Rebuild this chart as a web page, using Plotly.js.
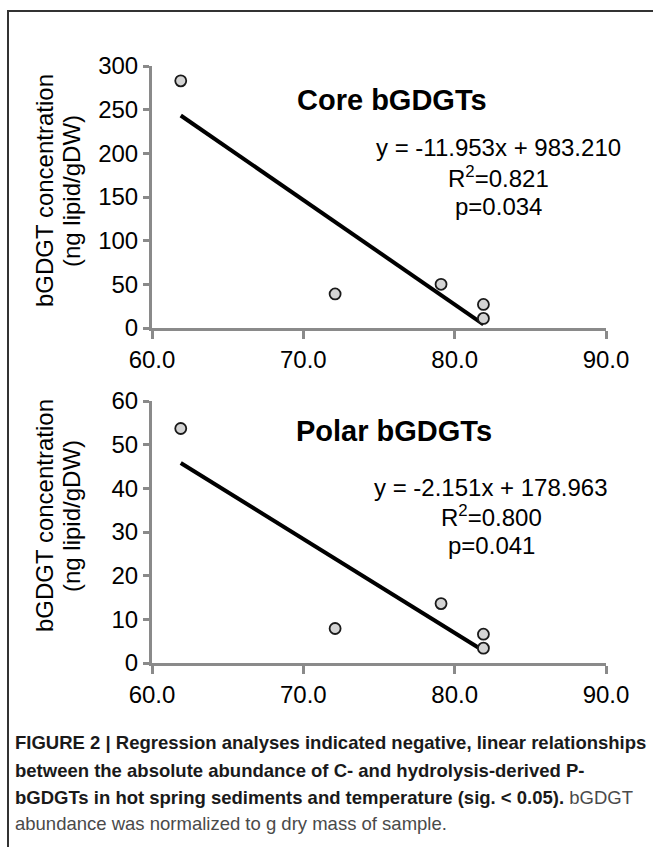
<!DOCTYPE html>
<html>
<head>
<meta charset="utf-8">
<script src="https://cdn.plot.ly/plotly-3.0.1.min.js"></script>
<style>
html,body{margin:0;padding:0;background:#fff;}
#chart{width:653px;height:847px;}
</style>
</head>
<body>
<div id="chart"></div>
<script>
// ---- data ----
const temperature = [61.9, 72.1, 79.1, 81.9, 81.9];
const coreConc = [283, 39, 50, 27, 11];
const polarConc = [53.7, 7.9, 13.6, 6.6, 3.4];
const coreFit = {slope: -11.953, intercept: 983.210};
const polarFit = {slope: -2.151, intercept: 178.963};
const xTicks = [60, 70, 80, 90];
const coreYTicks = [0, 50, 100, 150, 200, 250, 300];
const polarYTicks = [0, 10, 20, 30, 40, 50, 60];
const panelTitles = ["Core bGDGTs", "Polar bGDGTs"];
const coreStats = ["y = -11.953x + 983.210", "R<sup>2</sup>=0.821", "p=0.034"];
const polarStats = ["y = -2.151x + 178.963", "R<sup>2</sup>=0.800", "p=0.041"];
const yTitleLines = ["bGDGT concentration", "(ng lipid/gDW)"];
const captionLines = [
  "<b>FIGURE 2 | Regression analyses indicated negative, linear relationships</b>",
  "<b>between the absolute abundance of C- and hydrolysis-derived P-</b>",
  "<b>bGDGTs in hot spring sediments and temperature (sig. &lt; 0.05).</b> <span style=\"color:#4a4a4a\">bGDGT</span>",
  "<span style=\"color:#4a4a4a\">abundance was normalized to g dry mass of sample.</span>"
];

// ---- helpers ----
const W = 653, H = 847;
const px = v => v / W;
const py = v => 1 - v / H;
const FONT = "Liberation Sans, Arial, sans-serif";
const NARROW = "Liberation Sans Narrow, Arial Narrow, Liberation Sans, Arial, sans-serif";
const AX = "#8a8a8a";

const xmin = Math.min(...temperature), xmax = Math.max(...temperature);
const fitLine = f => [xmin, xmax].map(x => f.slope * x + f.intercept);

const markerStyle = {size: 11, color: "#d4d4d4", line: {color: "#1a1a1a", width: 1.8}};

const traces = [
  {x: [xmin, xmax], y: fitLine(coreFit), xaxis: "x", yaxis: "y", mode: "lines",
   line: {color: "#000", width: 4}, hoverinfo: "skip"},
  {x: temperature, y: coreConc, xaxis: "x", yaxis: "y", mode: "markers", marker: markerStyle},
  {x: [xmin, xmax], y: fitLine(polarFit), xaxis: "x2", yaxis: "y2", mode: "lines",
   line: {color: "#000", width: 4}, hoverinfo: "skip"},
  {x: temperature, y: polarConc, xaxis: "x2", yaxis: "y2", mode: "markers", marker: markerStyle}
];

const axisBase = {
  showline: true, linecolor: AX, linewidth: 3, ticks: "outside", ticklen: 6,
  tickwidth: 3, tickcolor: AX, showgrid: false, zeroline: false,
  tickfont: {family: FONT, size: 24, color: "#000"}, fixedrange: true
};
const xAxis = (anchor) => Object.assign({}, axisBase, {
  domain: [px(152), px(606)], range: [60, 90], tickvals: xTicks,
  tickformat: ".1f", anchor: anchor, ticklen: 8
});

const annotations = [];
function addText(text, x, y, size, opts) {
  annotations.push(Object.assign({
    text: text, x: px(x), y: py(y), xref: "paper", yref: "paper",
    showarrow: false, xanchor: "center", yanchor: "middle",
    font: {family: FONT, size: size, color: "#000"}
  }, opts || {}));
}
addText("<b>" + panelTitles[0] + "</b>", 392, 100, 29);
addText("<b>" + panelTitles[1] + "</b>", 394, 431, 29);
coreStats.forEach((t, i) => addText(t, 498, 148 + i * 29, 24));
polarStats.forEach((t, i) => addText(t, 491, 487 + i * 29, 24));
[191, 516].forEach(cy => {
  addText(yTitleLines[0], 44, cy, 24, {textangle: -90});
  addText(yTitleLines[1], 71, cy, 24, {textangle: -90});
});
const capY = [742, 770, 797, 823];
captionLines.forEach((t, i) => addText(t, 13, capY[i], 18.5,
  {xanchor: "left", font: {family: NARROW, size: 18.5, color: "#1a1a1a"}}));

const layout = {
  width: W, height: H, margin: {l: 0, r: 0, t: 0, b: 0},
  paper_bgcolor: "#fff", plot_bgcolor: "rgba(0,0,0,0)", showlegend: false,
  xaxis: xAxis("y"),
  yaxis: Object.assign({}, axisBase, {domain: [py(328), py(66)], range: [0, 300],
    tickvals: coreYTicks, anchor: "x"}),
  xaxis2: xAxis("y2"),
  yaxis2: Object.assign({}, axisBase, {domain: [py(663), py(401)], range: [0, 60],
    tickvals: polarYTicks, anchor: "x2"}),
  annotations: annotations,
  shapes: [
    {type: "line", xref: "paper", yref: "paper", x0: px(7), x1: 1, y0: py(11), y1: py(11),
     line: {color: "#333", width: 2}},
    {type: "line", xref: "paper", yref: "paper", x0: px(8), x1: px(8), y0: py(11), y1: 0,
     line: {color: "#333", width: 2}}
  ]
};

Plotly.newPlot("chart", traces, layout, {displayModeBar: false, staticPlot: true});
</script>
</body>
</html>
